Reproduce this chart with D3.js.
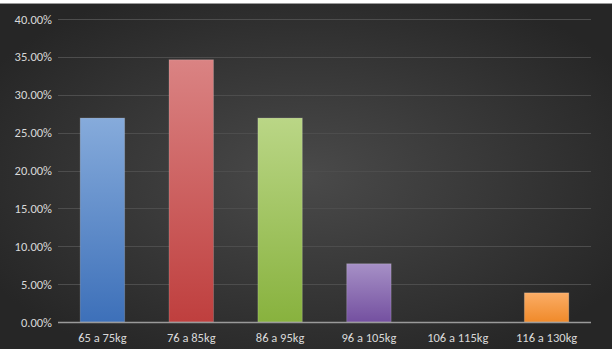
<!DOCTYPE html>
<html>
<head>
<meta charset="utf-8">
<script src="https://cdn.jsdelivr.net/npm/d3@7"></script>
<style>
  html, body { margin: 0; padding: 0; background: #ffffff; }
  svg { display: block; }
  text { font-family: Carlito, Calibri, "Open Sans", "Liberation Sans", sans-serif; }
</style>
</head>
<body>
<svg id="chart" width="612" height="349"></svg>
<script>
// Weight-class distribution
const categories = ["65 a 75kg", "76 a 85kg", "86 a 95kg", "96 a 105kg", "106 a 115kg", "116 a 130kg"];
const shares = [26.92, 34.62, 26.92, 7.69, 0, 3.85];
const yTicks = [0, 5, 10, 15, 20, 25, 30, 35, 40];
const barTop = ["#86abdb", "#da8383", "#bad686", "#a690c6", "#fbad66"];
const barBottom = ["#3d70b9", "#bf3f3e", "#88b23e", "#7450a0", "#f08a2a"];
const barColors = [0, 1, 2, 3, 3, 4];

const W = 612, H = 349;
const margin = { top: 19, right: 21, bottom: 27, left: 58 };
const svg = d3.select("#chart");
const defs = svg.append("defs");

// Dark panel with a soft radial glow
const bg = defs.append("radialGradient").attr("id", "bg")
  .attr("cx", "50%").attr("cy", "50%").attr("r", "60%");
bg.append("stop").attr("offset", "0%").attr("stop-color", "#4a4a4a");
bg.append("stop").attr("offset", "100%").attr("stop-color", "#262626");

svg.append("rect").attr("x", 0).attr("y", 3).attr("width", W).attr("height", H - 3)
  .attr("fill", "url(#bg)");
svg.append("line").attr("x1", 0).attr("x2", W).attr("y1", 3.5).attr("y2", 3.5)
  .attr("stroke", "#9a9a9a").attr("stroke-width", 1);

barTop.forEach((c, i) => {
  const g = defs.append("linearGradient").attr("id", "bar" + i)
    .attr("x1", 0).attr("y1", 0).attr("x2", 0).attr("y2", 1);
  g.append("stop").attr("offset", "0%").attr("stop-color", c);
  g.append("stop").attr("offset", "100%").attr("stop-color", barBottom[i]);
});

const x = d3.scaleBand().domain(categories)
  .range([margin.left, W - margin.right]).paddingInner(0.5).paddingOuter(0.25);
const y = d3.scaleLinear().domain([0, 40]).range([H - margin.bottom, margin.top]);

// Gridlines
svg.append("g").selectAll("line").data(yTicks.slice(1)).join("line")
  .attr("x1", margin.left).attr("x2", W - margin.right)
  .attr("y1", d => Math.round(y(d)) + 0.5).attr("y2", d => Math.round(y(d)) + 0.5)
  .attr("stroke", "#4d4d4d").attr("stroke-width", 1);

// Y axis labels
const yAxis = d3.axisLeft(y).tickValues(yTicks).tickSize(0).tickPadding(0)
  .tickFormat(d => d.toFixed(2) + "%");
const ya = svg.append("g").attr("transform", `translate(${margin.left - 6},0)`).call(yAxis);
ya.select(".domain").remove();
ya.selectAll("text").attr("fill", "#d9d9d9").attr("font-size", 12.5);

// Bars
svg.append("g").selectAll("rect").data(shares).join("rect")
  .attr("x", (d, i) => x(categories[i]))
  .attr("width", x.bandwidth())
  .attr("y", d => y(d))
  .attr("height", d => y(0) - y(d))
  .attr("fill", (d, i) => `url(#bar${barColors[i]})`)
  .attr("stroke", "rgba(255,255,255,0.18)").attr("stroke-width", 1)
  .style("display", d => d > 0 ? null : "none");

// Baseline
svg.append("line").attr("x1", margin.left).attr("x2", W - margin.right)
  .attr("y1", y(0) + 0.5).attr("y2", y(0) + 0.5)
  .attr("stroke", "#9a9a9a").attr("stroke-width", 1.5);

// X axis labels
const xAxis = d3.axisBottom(x).tickSize(0).tickPadding(11);
const xa = svg.append("g").attr("transform", `translate(0,${y(0)})`).call(xAxis);
xa.select(".domain").remove();
xa.selectAll("text").attr("fill", "#d9d9d9").attr("font-size", 12.5);
</script>
</body>
</html>
